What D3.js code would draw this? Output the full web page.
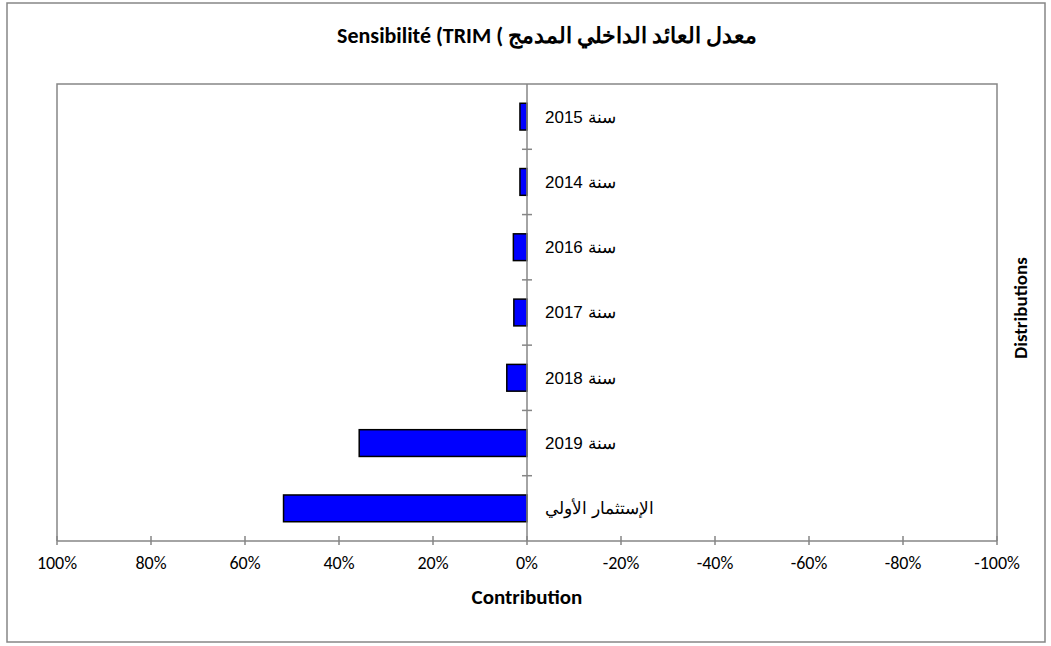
<!DOCTYPE html>
<html>
<head>
<meta charset="utf-8">
<script src="https://cdn.jsdelivr.net/npm/d3@7"></script>
<style>
  body { margin: 0; background: #fff; }
  svg { display: block; }
</style>
</head>
<body>
<svg id="chart" width="1051" height="646"></svg>
<script>
// categories, top to bottom as in the sheet
var categories = ["سنة 2015", "سنة 2014", "سنة 2016", "سنة 2017", "سنة 2018", "سنة 2019", "الإستثمار الأولي"]
// contribution of each line (positive values are drawn to the left)
var values = [0.015, 0.015, 0.029, 0.028, 0.043, 0.357, 0.518]
var xTicks = [1, 0.8, 0.6, 0.4, 0.2, 0, -0.2, -0.4, -0.6, -0.8, -1]

var titleText = "معدل العائد الداخلي المدمج ) Sensibilité (TRIM"
var xTitle = "Contribution"
var yTitle = "Distributions"

var svg = d3.select("#chart")
var grey = "#868686"
var uiFont = "Calibri, Carlito, Lato, 'Open Sans', sans-serif"

// plot area (window.top is reserved, hence the prefixes)
var plotLeft = 57, plotRight = 997, plotTop = 84, plotBottom = 541

var x = d3.scaleLinear().domain([1, -1]).range([plotLeft, plotRight])
var y = d3.scaleBand().domain(categories).range([plotTop, plotBottom])
  .paddingInner(0.59).paddingOuter(0.295)

// excel style percent, plain hyphen for negatives
var pct = function(d) { return Math.round(d * 100) + "%" }

// outer chart border
svg.append("rect")
  .attr("x", 7).attr("y", 3).attr("width", 1038).attr("height", 639)
  .attr("fill", "none").attr("stroke", grey).attr("stroke-width", 1.5)

// plot border (left, top, right)
svg.append("path")
  .attr("d", "M" + plotLeft + "," + plotBottom + "V" + plotTop + "H" + plotRight + "V" + plotBottom)
  .attr("fill", "none").attr("stroke", grey).attr("stroke-width", 1.5)

// bars
svg.selectAll("rect.bar")
  .data(values)
  .enter().append("rect")
  .attr("class", "bar")
  .attr("x", function(d) { return Math.min(x(d), x(0)) })
  .attr("y", function(d, i) { return y(categories[i]) })
  .attr("width", function(d) { return Math.abs(x(0) - x(d)) })
  .attr("height", y.bandwidth())
  .attr("fill", "#0000ff")
  .attr("stroke", "#000").attr("stroke-width", 1.5)

// vertical category axis through 0%
svg.append("line")
  .attr("x1", x(0)).attr("x2", x(0)).attr("y1", plotTop).attr("y2", plotBottom)
  .attr("stroke", grey).attr("stroke-width", 1.5)

// category separators on that axis
var gap = (y.step() - y.bandwidth()) / 2
svg.selectAll("line.ctick")
  .data(categories.slice(1))
  .enter().append("line")
  .attr("class", "ctick")
  .attr("x1", x(0) - 5).attr("x2", x(0) + 5)
  .attr("y1", function(d) { return y(d) - gap })
  .attr("y2", function(d) { return y(d) - gap })
  .attr("stroke", grey).attr("stroke-width", 1.5)

// category labels, right of the axis
svg.selectAll("text.clabel")
  .data(categories)
  .enter().append("text")
  .attr("class", "clabel")
  .attr("x", 545)
  .attr("y", function(d) { return y(d) + y.bandwidth() / 2 })
  .attr("dy", "0.35em")
  .attr("direction", "rtl")
  .attr("text-anchor", "end")
  .style("font-family", "Arial, 'Liberation Sans', sans-serif")
  .style("font-size", "17px")
  .text(function(d) { return d })

// x axis
svg.append("line")
  .attr("x1", plotLeft).attr("x2", plotRight).attr("y1", plotBottom).attr("y2", plotBottom)
  .attr("stroke", grey).attr("stroke-width", 1.5)

svg.selectAll("line.xtick")
  .data(xTicks)
  .enter().append("line")
  .attr("class", "xtick")
  .attr("x1", function(d) { return x(d) }).attr("x2", function(d) { return x(d) })
  .attr("y1", plotBottom - 5).attr("y2", plotBottom + 4)
  .attr("stroke", grey).attr("stroke-width", 1.5)

svg.selectAll("text.xlabel")
  .data(xTicks)
  .enter().append("text")
  .attr("class", "xlabel")
  .attr("x", function(d) { return x(d) })
  .attr("y", 569)
  .attr("text-anchor", "middle")
  .style("font-family", uiFont)
  .style("font-size", "18px")
  .text(pct)

// titles
svg.append("text")
  .attr("x", 547).attr("y", 43)
  .attr("direction", "rtl")
  .attr("text-anchor", "middle")
  .style("font-family", uiFont)
  .style("font-weight", "bold")
  .style("font-size", "22px")
  .text(titleText)

svg.append("text")
  .attr("x", 527).attr("y", 604)
  .attr("text-anchor", "middle")
  .style("font-family", uiFont)
  .style("font-weight", "bold")
  .style("font-size", "21px")
  .text(xTitle)

svg.append("text")
  .attr("transform", "translate(1020,308) rotate(-90)")
  .attr("dy", "0.35em")
  .attr("text-anchor", "middle")
  .style("font-family", uiFont)
  .style("font-weight", "bold")
  .style("font-size", "19px")
  .text(yTitle)
</script>
</body>
</html>
